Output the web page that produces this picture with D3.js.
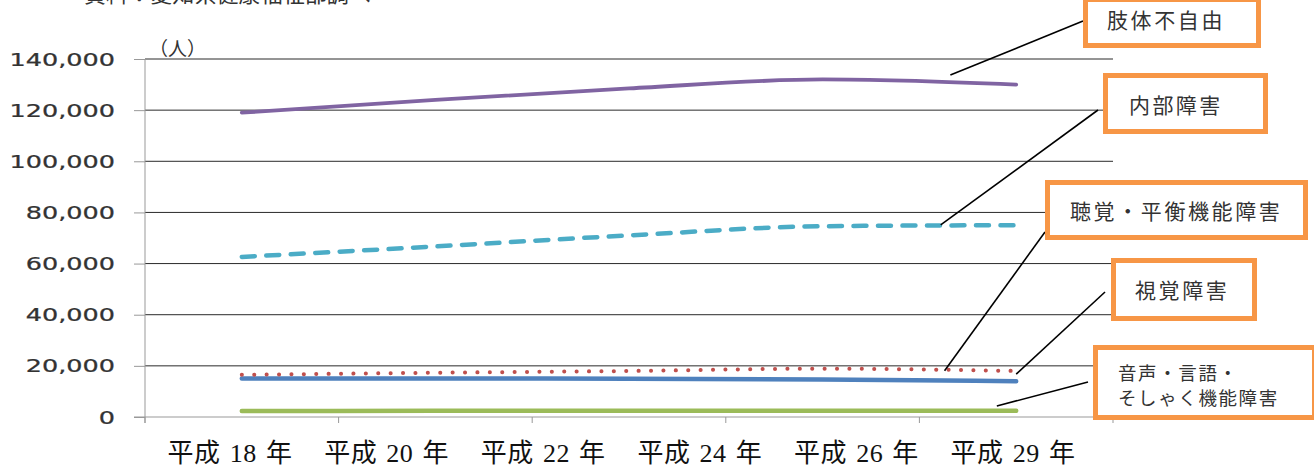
<!DOCTYPE html>
<html>
<head>
<meta charset="utf-8">
<script src="https://cdn.jsdelivr.net/npm/d3@7/dist/d3.min.js"></script>
<style>
  html, body { margin: 0; padding: 0; background: #fff; }
  svg { display: block; }
</style>
</head>
<body>
<svg id="chart" width="1314" height="468"></svg>
<script>
// 障害種別 身体障害者手帳所持者数の推移（人）
const slots = [0, 1, 2, 3, 4];
const xTickLabels = ["平成 18 年", "平成 20 年", "平成 22 年", "平成 24 年", "平成 26 年", "平成 29 年"];
const yTicks = [0, 20000, 40000, 60000, 80000, 100000, 120000, 140000];

const limbValues    = [119000, 124000, 128500, 132000, 130000]; // 肢体不自由
const internalValues = [62600, 66700, 71000, 74600, 75000];     // 内部障害
const hearingValues = [16500, 17300, 18000, 18900, 18000];      // 聴覚・平衡機能障害
const visualValues  = [15100, 15100, 15000, 14700, 14000];      // 視覚障害
const speechValues  = [2300, 2400, 2400, 2400, 2400];           // 音声・言語・そしゃく機能障害

const seriesNames = ["肢体不自由", "内部障害", "聴覚・平衡機能障害", "視覚障害", "音声・言語・\nそしゃく機能障害"];

const svg = d3.select("#chart");

const x = d3.scaleBand().domain(slots).range([145, 1113]);
const xc = i => x(0) + (i + 0.5) * x.bandwidth();
const y = d3.scaleLinear().domain([0, 140000]).range([417, 59]);
const xLabel = d3.scalePoint().domain(xTickLabels).range([230, 1013]);

// source note (runs off the top edge)
svg.append("text")
  .attr("x", 84).attr("y", 2)
  .attr("font-family", "Noto Sans CJK JP").attr("font-size", 22)
  .attr("fill", "#333")
  .attr("textLength", 287).attr("lengthAdjust", "spacingAndGlyphs")
  .text("資料：愛知県健康福祉部調べ");

// horizontal gridlines
svg.append("g").selectAll("line").data(yTicks.filter(d => d > 0)).join("line")
  .attr("x1", 145).attr("x2", 1113)
  .attr("y1", d => y(d)).attr("y2", d => y(d))
  .attr("stroke", "#2a2a2a").attr("stroke-width", 1);

// y axis
const yAxis = svg.append("g").attr("transform", "translate(145,0)")
  .call(d3.axisLeft(y).tickValues(yTicks).tickSize(11).tickFormat(d3.format(",")));
yAxis.select(".domain").attr("stroke", "#999").attr("d", "M0,59V423");
yAxis.selectAll(".tick line").attr("stroke", "#999");
yAxis.selectAll(".tick text").remove();
yAxis.selectAll(".tick").append("text")
  .attr("transform", "translate(-30,0) scale(1.5,1)")
  .attr("text-anchor", "end").attr("dy", "0.36em")
  .attr("font-family", "DejaVu Sans").attr("font-size", 17)
  .attr("fill", "#333")
  .attr("stroke", "#333").attr("stroke-width", 0.25)
  .text(d => d3.format(",")(d));

// unit label
svg.append("text").attr("x", 149).attr("y", 56)
  .attr("font-family", "Noto Sans CJK JP").attr("font-size", 19).attr("fill", "#333")
  .text("（人）");

// x axis line with ticks between categories
const xa = svg.append("g");
xa.append("line").attr("x1", 134).attr("x2", 1113).attr("y1", y(0)).attr("y2", y(0))
  .attr("stroke", "#999").attr("stroke-width", 1);
xa.selectAll("line.tk").data(slots.concat([slots.length])).join("line")
  .attr("class", "tk")
  .attr("x1", i => x(0) + i * x.bandwidth()).attr("x2", i => x(0) + i * x.bandwidth())
  .attr("y1", y(0)).attr("y2", y(0) + 6)
  .attr("stroke", "#999");

// year labels row
svg.append("g").selectAll("text").data(xTickLabels).join("text")
  .attr("x", d => xLabel(d)).attr("y", 462)
  .attr("text-anchor", "middle")
  .attr("font-family", "Liberation Serif, Noto Sans CJK JP").attr("font-size", 26)
  .attr("letter-spacing", 0.5)
  .attr("fill", "#111")
  .text(d => d.replace(/ /g, "\u2004"));

// series lines
const line = d3.line().x((d, i) => xc(i)).y(d => y(d)).curve(d3.curveMonotoneX);
const series = [
  { values: speechValues, color: "#9bbb59", width: 4.5, dash: null, cap: "round" },
  { values: visualValues, color: "#4f81bd", width: 4.5, dash: null, cap: "round" },
  { values: hearingValues, color: "#c0504d", width: 4, dash: "0.1 12.3", cap: "round" },
  { values: internalValues, color: "#4bacc6", width: 4.5, dash: "13 11.5", cap: "round" },
  { values: limbValues, color: "#8064a2", width: 3.8, dash: null, cap: "round" }
];
svg.append("g").selectAll("path").data(series).join("path")
  .attr("d", d => line(d.values))
  .attr("fill", "none")
  .attr("stroke", d => d.color)
  .attr("stroke-width", d => d.width)
  .attr("stroke-linecap", d => d.cap)
  .attr("stroke-dasharray", d => d.dash);

// callouts: leader line from box edge to a point near each series
const callouts = [
  { name: seriesNames[0], box: [1083, -3, 178, 51], from: [1083, 21], at: [3.66, 133700], fs: 21, ls: 2.6, tx: 1107, ty: [20] },
  { name: seriesNames[1], box: [1103, 73, 165, 61], from: [1098, 110], at: [3.61, 75100], fs: 21, ls: 2.4, tx: 1129, ty: [105] },
  { name: seriesNames[2], box: [1045, 180, 263, 60], from: [1045, 232], at: [3.63, 18100], fs: 21, ls: 2.6, tx: 1070, ty: [211] },
  { name: seriesNames[3], box: [1111, 258, 146, 63], from: [1105, 292], at: [4.0, 16800], fs: 21, ls: 2.6, tx: 1135, ty: [290] },
  { name: seriesNames[4], box: [1093, 345, 224, 75], from: [1088, 382], at: [3.9, 4300], fs: 18.5, ls: 1.6, tx: 1118, ty: [373, 398] }
];
const cg = svg.append("g");
cg.selectAll("line").data(callouts).join("line")
  .attr("x1", d => d.from[0]).attr("y1", d => d.from[1])
  .attr("x2", d => x(0) + (d.at[0] + 0.5) * x.bandwidth()).attr("y2", d => y(d.at[1]))
  .attr("stroke", "#000").attr("stroke-width", 1.6);
const boxes = cg.selectAll("g.box").data(callouts).join("g").attr("class", "box");
boxes.append("rect")
  .attr("x", d => d.box[0] + 2.5).attr("y", d => d.box[1] + 2.5)
  .attr("width", d => d.box[2] - 5).attr("height", d => d.box[3] - 5)
  .attr("fill", "#fff").attr("stroke", "#f79646").attr("stroke-width", 5);
boxes.each(function (d) {
  const lines = d.name.split("\n");
  d3.select(this).selectAll("text").data(lines).join("text")
    .attr("x", d.tx).attr("y", (t, i) => d.ty[i])
    .attr("dy", "0.36em")
    .attr("font-family", "Noto Sans CJK JP").attr("font-size", d.fs)
    .attr("letter-spacing", d.ls)
    .attr("fill", "#333")
    .text(t => t);
});
</script>
</body>
</html>
